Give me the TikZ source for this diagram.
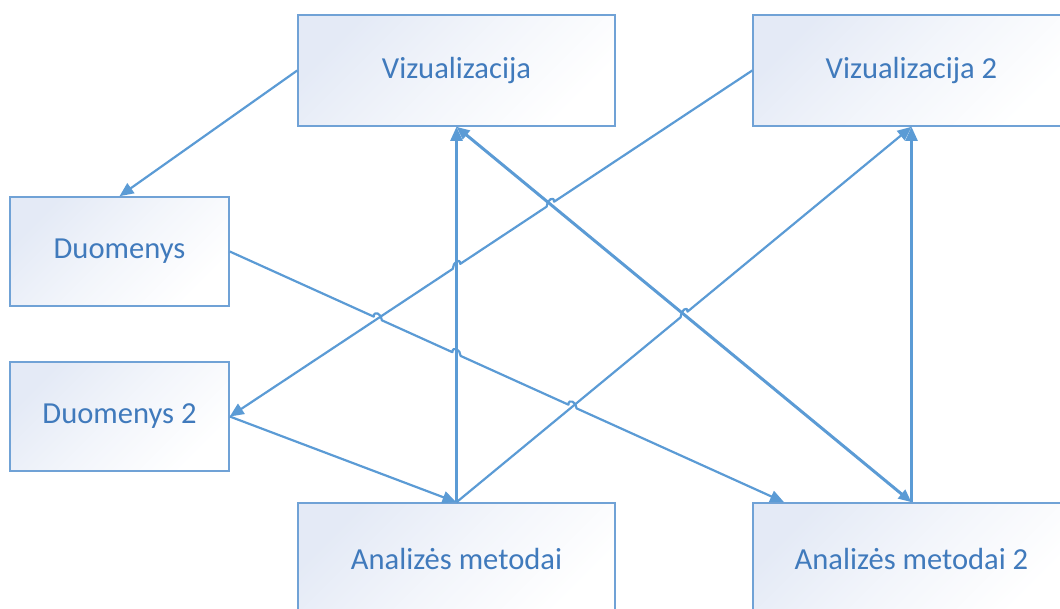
\documentclass[tikz,border=0pt]{standalone}
\usepackage{fontspec}
\setmainfont{Carlito}
\usetikzlibrary{arrows.meta,calc,intersections}
\definecolor{linkblue}{RGB}{91,155,213}
\definecolor{edgeblue}{RGB}{112,162,214}
\definecolor{labelblue}{RGB}{64,122,188}
\definecolor{tint}{RGB}{228,234,246}
\begin{document}
\begin{tikzpicture}[x=0.02cm,y=-0.02cm,
  box/.style={draw=edgeblue, line width=0.9pt, top color=tint, bottom color=white,
    middle color=white!55!tint, shading angle=45, minimum width=6.34cm,
    minimum height=2.22cm, inner sep=0pt,
    text=labelblue, font=\fontsize{17.4}{20}\selectfont},
  smallbox/.style={box, minimum width=4.38cm, minimum height=2.18cm},
  link/.style={draw=linkblue, line width=1.25pt, line join=round,
    -{Triangle[length=0.28cm,width=0.24cm]}},
  twoway/.style={link, line width=1.7pt,
    {Triangle[length=0.26cm,width=0.22cm]}-{Triangle[length=0.26cm,width=0.22cm]}}]

\useasboundingbox (0,0) rectangle (1060,608);
\clip (0,0) rectangle (1060,608);

% boxes
\node[box] (viz)  at (456.5,70.5)  {Vizualizacija};
\node[box] (viz2) at (911.5,70.5)  {Vizualizacija 2};
\node[smallbox] (duo)  at (119.5,251.5) {Duomenys};
\node[smallbox] (duo2) at (119.5,416.5) {Duomenys 2};
\node[box] (am)   at (456.5,558.5) {Analizės metodai};
\node[box] (am2)  at (911.5,558.5) {Analizės metodai 2};

\coordinate (am2in) at ($(am2.north west)!0.1!(am2.north east)$);

% crossing points of the connectors
\path[name path=p2] (viz2.west) -- (duo2.east);
\path[name path=p3] (duo.east) -- (am2in);
\path[name path=p5] (am.north) -- (viz.south);
\path[name path=p6] (am.north) -- (viz2.south);
\path[name path=p8] (viz.south) -- (am2.north);
\path[name intersections={of=p2 and p8, by=h28}];
\path[name intersections={of=p2 and p5, by=h25}];
\path[name intersections={of=p3 and p2, by=h32}];
\path[name intersections={of=p3 and p5, by=h35}];
\path[name intersections={of=p3 and p6, by=h36}];
\path[name intersections={of=p6 and p8, by=h68}];

% straight connectors
\draw[link] (viz.west) -- (duo.north);
\draw[link] (duo2.east) -- (am.north);
\draw[link] (am.north) -- (viz.south);
\draw[link] (am2.north) -- (viz2.south);
\draw[twoway] (viz.south) -- (am2.north);

% connectors with line hops
\draw[link] (viz2.west)
  -- ($(h28)!0.09cm!(viz2.west)$) .. controls +(0,0.13cm) and +(0,0.13cm) .. ($(h28)!0.09cm!(duo2.east)$)
  -- ($(h25)!0.09cm!(viz2.west)$) .. controls +(0,0.13cm) and +(0,0.13cm) .. ($(h25)!0.09cm!(duo2.east)$)
  -- (duo2.east);

\draw[link] (duo.east)
  -- ($(h32)!0.09cm!(duo.east)$) .. controls +(0,0.13cm) and +(0,0.13cm) .. ($(h32)!0.09cm!(am2in)$)
  -- ($(h35)!0.09cm!(duo.east)$) .. controls +(0,0.13cm) and +(0,0.13cm) .. ($(h35)!0.09cm!(am2in)$)
  -- ($(h36)!0.09cm!(duo.east)$) .. controls +(0,0.13cm) and +(0,0.13cm) .. ($(h36)!0.09cm!(am2in)$)
  -- (am2in);

\draw[link] (am.north)
  -- ($(h68)!0.09cm!(am.north)$) .. controls +(0,0.13cm) and +(0,0.13cm) .. ($(h68)!0.09cm!(viz2.south)$)
  -- (viz2.south);
\end{tikzpicture}
\end{document}
